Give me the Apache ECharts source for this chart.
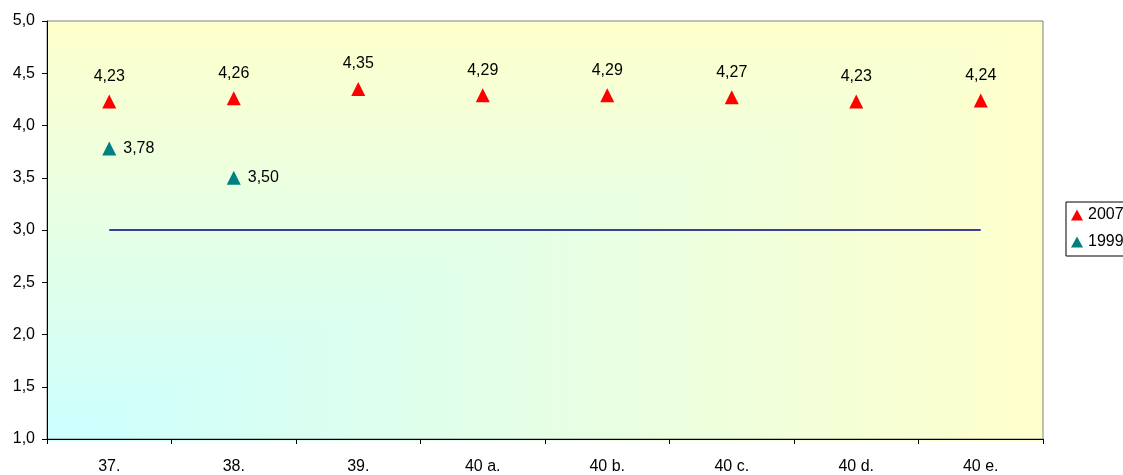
<!DOCTYPE html>
<html><head><meta charset="utf-8">
<script src="https://cdn.jsdelivr.net/npm/echarts@6/dist/echarts.min.js"></script>
<style>html,body{margin:0;padding:0;background:#fff}#c{width:1123px;height:475px}</style>
</head><body><div id="c"></div>
<script>
var categories = ['37.', '38.', '39.', '40 a.', '40 b.', '40 c.', '40 d.', '40 e.'];
var values2007 = [4.23, 4.26, 4.35, 4.29, 4.29, 4.27, 4.23, 4.24];
var values1999 = [3.78, 3.50, null, null, null, null, null, null];
var referenceLine = [3, 3, 3, 3, 3, 3, 3, 3];
var yMin = 1, yMax = 5, yStep = 0.5;

var W = 1123, H = 475;
var gl = 47, gr = 80, gt = 21, gb = 34;
var L = gl, R = W - gr, T = gt, B = H - gb;
var cStart = '#ccffff', cEnd = '#ffffcc';

var fmt2 = function (p) { return p.value == null ? '' : Number(p.value).toFixed(2).replace('.', ','); };
var font = 'Liberation Sans, Arial, sans-serif';
var chart = echarts.init(document.getElementById('c'));
chart.setOption({
  animation: false,
  graphic: [
    { type: 'rect', z: -10, silent: true,
      shape: { x: L, y: T, width: R - L, height: B - T },
      style: { fill: new echarts.graphic.LinearGradient(0, B, 0, T, [
        { offset: 0, color: cStart }, { offset: 1, color: cEnd }], true) } },
    { type: 'polygon', z: -9, silent: true,
      shape: { points: [[L, B], [R, B], [R, T]] },
      style: { fill: new echarts.graphic.LinearGradient(L, 0, R, 0, [
        { offset: 0, color: cStart }, { offset: 1, color: cEnd }], true) } }
  ],
  grid: {
    left: gl, right: gr, top: gt, bottom: gb, show: true,
    borderColor: '#808080', borderWidth: 1, backgroundColor: 'transparent'
  },
  legend: {
    data: ['2007', '1999'], orient: 'vertical', left: 1066, top: 202,
    icon: 'triangle', itemWidth: 12, itemHeight: 11, itemGap: 11,
    borderColor: '#000', borderWidth: 1, padding: [5, 20, 6, 5],
    textStyle: { fontFamily: font, fontSize: 16, color: '#000' },
    itemStyle: { opacity: 1 }
  },
  xAxis: {
    type: 'category', data: categories, boundaryGap: true,
    axisLine: { lineStyle: { color: '#000', width: 1 } },
    axisTick: { show: true, length: 5, lineStyle: { color: '#000' } },
    axisLabel: { margin: 20, fontFamily: font, fontSize: 16, color: '#000' },
    splitLine: { show: false }
  },
  yAxis: {
    type: 'value', min: yMin, max: yMax, interval: yStep,
    axisLine: { show: true, lineStyle: { color: '#000', width: 1 } },
    axisTick: { show: true, length: 5, lineStyle: { color: '#000' } },
    axisLabel: { margin: 12, fontFamily: font, fontSize: 16, color: '#000',
      formatter: function (v) { return v.toFixed(1).replace('.', ','); } },
    splitLine: { show: false }
  },
  series: [
    {
      name: 'ref', type: 'line', data: referenceLine, symbol: 'none',
      lineStyle: { color: '#000080', width: 1.5 }, silent: true, z: 1
    },
    {
      name: '2007', type: 'scatter', data: values2007, symbol: 'triangle', symbolSize: 14,
      itemStyle: { color: '#ff0000', opacity: 1 },
      label: { show: true, position: 'top', distance: 10, formatter: fmt2,
        fontFamily: font, fontSize: 16, color: '#000' }, z: 3
    },
    {
      name: '1999', type: 'scatter', data: values1999, symbol: 'triangle', symbolSize: 14,
      itemStyle: { color: '#008080', opacity: 1 },
      label: { show: true, position: 'right', distance: 7, formatter: fmt2,
        fontFamily: font, fontSize: 16, color: '#000' }, z: 3
    }
  ]
});
</script></body></html>
